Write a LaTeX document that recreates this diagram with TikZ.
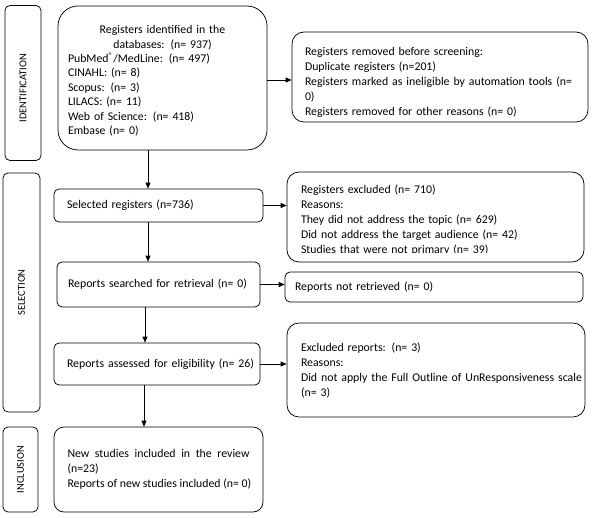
\documentclass[tikz,border=0pt]{standalone}
\usepackage{fontspec}
\setmainfont{Carlito}
\usetikzlibrary{arrows.meta,calc}
\begin{document}
\begin{tikzpicture}[x=1pt,y=-1pt,
  frame/.style={draw, line width=0.75pt, inner sep=0pt, font=\fontsize{11.8}{15}\selectfont},
  sidebox/.style={frame, rounded corners=5pt},
  sidelabel/.style={rotate=90, inner sep=0pt, font=\fontsize{10.5}{12}\selectfont},
  txtbox/.style={frame, align=left},
  arr/.style={-{Triangle[length=6pt,width=5pt]}, line width=0.75pt}]
\useasboundingbox (0,0) rectangle (593,518);

% side boxes
\node[sidebox, minimum width=36pt, minimum height=155pt] (idside) at (23,83) {};
\node[sidelabel] (idlab) at (23,88) {IDENTIFICATION};
\node[sidebox, minimum width=37pt, minimum height=239pt] (selside) at (21.5,292.5) {};
\node[sidelabel] (sellab) at (selside.center) {SELECTION};
\node[sidebox, minimum width=35pt, minimum height=85pt] (incside) at (20.5,469.5) {};
\node[sidelabel] (inclab) at (incside.center) {INCLUSION};

% identification
\node[txtbox, rounded corners=20pt, minimum width=209pt, minimum height=144pt,
      text width=189pt, inner xsep=10pt, font=\fontsize{11.8}{14.4}\selectfont] (ident) at (162.5,78)
 {{\centering\rule{0pt}{14pt}Registers identified in the\\ databases: (n= 937)\par}
  \mbox{PubMed\textsuperscript{\textregistered}/MedLine: (n= 497)}\\
  CINAHL: (n= 8)\\
  Scopus: (n= 3)\\
  LILACS: (n= 11)\\
  Web of Science: (n= 418)\\
  Embase (n= 0)};

\node[txtbox, rounded corners=12pt, minimum width=296pt, minimum height=90pt,
      text width=270pt, inner xsep=13pt] (removed) at (440,77)
 {\rule{0pt}{20pt}Registers removed before screening:\\
  Duplicate registers (n=201)\\
  \mbox{Registers marked as ineligible by automation tools (n=}\\
  0)\\
  \mbox{Registers removed for other reasons (n= 0)}};

% selection
\node[txtbox, rounded corners=5pt, minimum width=209pt, minimum height=33pt,
      text width=183pt, inner xsep=13pt] (selected) at (158.5,205.5)
 {\mbox{Selected registers (n=736)}};

\node[frame, rounded corners=12pt, minimum width=297pt, minimum height=90pt] (excl) at (435.5,217) {};
\begin{scope}
\clip (excl.north west) rectangle ([yshift=10pt]excl.south east);
\node[txtbox, draw=none, text width=269pt, inner xsep=14pt, minimum width=297pt] (excltxt) at ([yshift=-3pt]excl.center)
 {Registers excluded (n= 710)\\
  Reasons:\\
  \mbox{They did not address the topic (n= 629)}\\
  \mbox{Did not address the target audience (n= 42)}\\
  \mbox{Studies that were not primary (n= 39)}};
\end{scope}

\node[txtbox, rounded corners=5pt, minimum width=203pt, minimum height=45pt,
      text width=181pt, inner xsep=11pt] (searched) at (158.5,284.5)
 {\mbox{Reports searched for retrieval (n= 0)}};

\node[txtbox, rounded corners=5pt, minimum width=298pt, minimum height=30pt,
      text width=278pt, inner xsep=10pt] (notretr) at (434,287)
 {\mbox{Reports not retrieved (n= 0)}};

\node[txtbox, rounded corners=5pt, minimum width=206pt, minimum height=42pt,
      text width=180pt, inner xsep=13pt] (assessed) at (157,364)
 {\mbox{Reports assessed for eligibility (n= 26)}};

\node[txtbox, rounded corners=12pt, minimum width=298pt, minimum height=94pt,
      text width=270pt, inner xsep=14pt] (exclrep) at (436,370)
 {Excluded reports: (n= 3)\\
  Reasons:\\
  \mbox{Did not apply the Full Outline of UnResponsiveness scale}\\
  (n= 3)};

% inclusion
\node[frame, align=justify, rounded corners=10pt, minimum width=209pt, minimum height=85pt,
      text width=182pt, inner xsep=13.5pt] (newst) at (158.5,469.5)
 {\hyphenpenalty=10000 New studies included in the review (n=23)\par
  \mbox{Reports of new studies included (n= 0)}};

% connectors
\coordinate (c1) at (148,0);
\coordinate (c2) at (145,0);
\coordinate (c3) at (144,0);
\draw[arr] (ident.east |- 0,80) -- (removed.west |- 0,80);
\draw[arr] (ident.south -| c1) -- (selected.north -| c1);
\draw[arr] (selected.east) -- (selected.east -| excl.west);
\draw[arr] (selected.south -| c1) -- (searched.north -| c1);
\draw[arr] (searched.east) -- (searched.east -| notretr.west);
\draw[arr] (searched.south -| c2) -- (assessed.north -| c2);
\draw[arr] (assessed.east) -- (assessed.east -| exclrep.west);
\draw[arr] (assessed.south -| c3) -- (newst.north -| c3);
\end{tikzpicture}
\end{document}
